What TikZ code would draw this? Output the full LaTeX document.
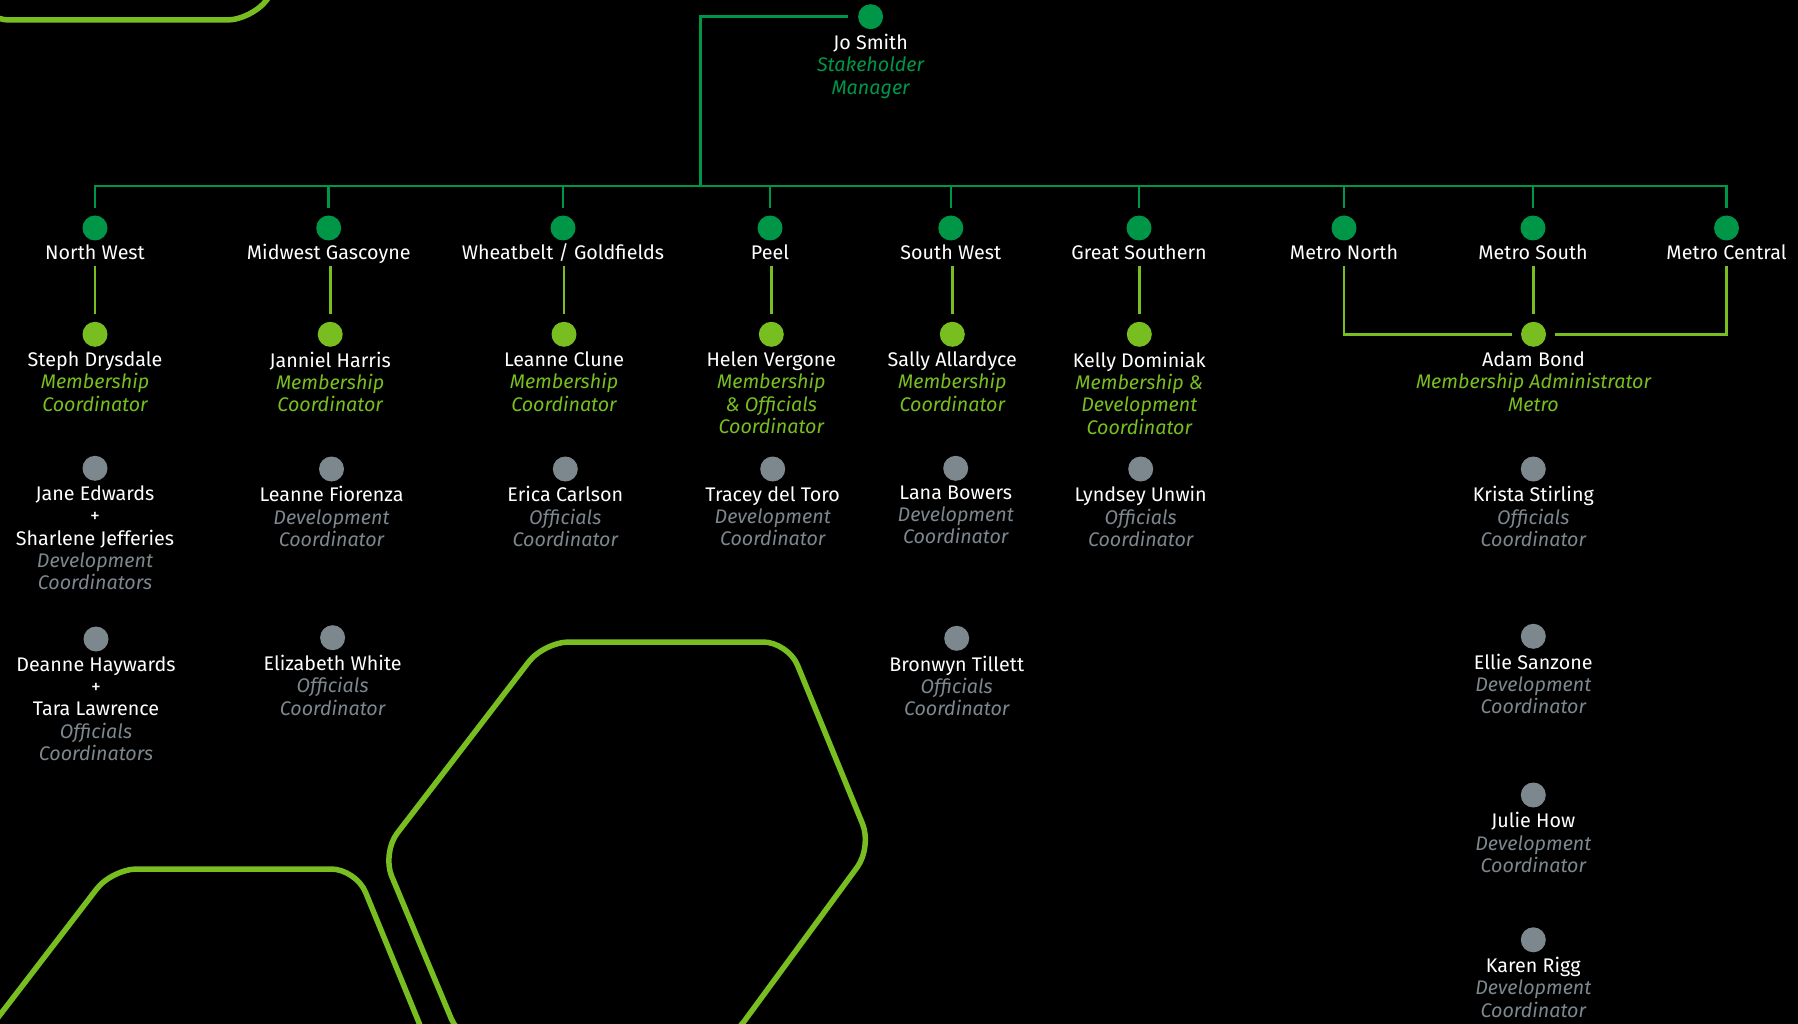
\documentclass[tikz,border=0pt]{standalone}
\usepackage{fontspec}
\setmainfont{Fira Sans}
\usetikzlibrary{positioning}

\definecolor{dkgreen}{RGB}{0,150,72}
\definecolor{ltgreen}{RGB}{120,190,32}
\definecolor{dotgray}{RGB}{124,135,142}

\newcommand{\dkrole}[1]{{\color{dkgreen}\itshape #1}}
\newcommand{\ltrole}[1]{{\color{ltgreen}\itshape #1}}
\newcommand{\grrole}[1]{{\color{dotgray}\itshape #1}}
\newcommand{\hexshape}[2]{%
  \draw[hexline, shift={(#1,#2)}] (122,0) -- (244,0) -- (328,205) -- (185,400)
    -- (-83,400) -- (-162,211) -- (0,0) -- cycle;}

\begin{document}
\begin{tikzpicture}[x=1pt, y=-1pt,
  dkdot/.style={circle, fill=dkgreen, minimum size=25pt, inner sep=0pt, outer sep=0pt},
  ltdot/.style={dkdot, fill=ltgreen},
  grdot/.style={dkdot, fill=dotgray},
  dkline/.style={draw=dkgreen, line width=2.6pt},
  ltline/.style={draw=ltgreen, line width=2.6pt},
  hexline/.style={draw=ltgreen, line width=5.5pt, rounded corners=25pt},
  person/.style={align=center, inner sep=0pt, outer sep=0pt, text=white,
    font=\fontsize{19.7}{22.3}\selectfont, execute at begin node=\strut}]
\useasboundingbox (0,0) rectangle (1798,1024);
\fill[black] (0,0) rectangle (1798,1024);

% background hexagons
\begin{scope}
\clip (0,0) rectangle (1798,1024);
\hexshape{67}{-380}
\hexshape{544}{642}
\hexshape{112}{869}
\end{scope}

% manager
\node[dkdot] (jo) at (870.6,16.7) {};
\node[person, below=5pt of jo] (jotxt) {Jo Smith\\\dkrole{Stakeholder}\\\dkrole{Manager}};
\coordinate (bar) at (700.6,186);

% regions
\node[dkdot] (nw) at (95,228) {};
\node[dkdot] (mg) at (328.7,228) {};
\node[dkdot] (wg) at (563,228) {};
\node[dkdot] (peel) at (770,228) {};
\node[dkdot] (sw) at (950.8,228) {};
\node[dkdot] (gs) at (1139,228) {};
\node[dkdot] (mn) at (1344,228) {};
\node[dkdot] (ms) at (1533,228) {};
\node[dkdot] (mc) at (1726.5,228) {};
\node[person, below=3pt of nw] (nwl) {North West};
\node[person, below=3pt of mg] (mgl) {Midwest Gascoyne};
\node[person, below=3pt of wg] (wgl) {Wheatbelt / Goldfields};
\node[person, below=3pt of peel] (peell) {Peel};
\node[person, below=3pt of sw] (swl) {South West};
\node[person, below=3pt of gs] (gsl) {Great Southern};
\node[person, below=3pt of mn] (mnl) {Metro North};
\node[person, below=3pt of ms] (msl) {Metro South};
\node[person, below=3pt of mc] (mcl) {Metro Central};

% coordinators
\node[ltdot] (steph) at (95,334.3) {};
\node[ltdot] (janniel) at (330.2,334.3) {};
\node[ltdot] (leanne) at (564,334.3) {};
\node[ltdot] (helen) at (771.3,334.3) {};
\node[ltdot] (sally) at (952.3,334.3) {};
\node[ltdot] (kelly) at (1139.3,334.3) {};
\node[ltdot] (adam) at (1533.5,334.3) {};
\node[person, below=5pt of steph] (stephtxt) {Steph Drysdale\\\ltrole{Membership}\\\ltrole{Coordinator}};
\node[person, below=5pt of janniel] (jannieltxt) {Janniel Harris\\\ltrole{Membership}\\\ltrole{Coordinator}};
\node[person, below=5pt of leanne] (leannetxt) {Leanne Clune\\\ltrole{Membership}\\\ltrole{Coordinator}};
\node[person, below=5pt of helen] (helentxt) {Helen Vergone\\\ltrole{Membership}\\\ltrole{\& Officials}\\\ltrole{Coordinator}};
\node[person, below=5pt of sally] (sallytxt) {Sally Allardyce\\\ltrole{Membership}\\\ltrole{Coordinator}};
\node[person, below=5pt of kelly] (kellytxt) {Kelly Dominiak\\\ltrole{Membership \&}\\\ltrole{Development}\\\ltrole{Coordinator}};
\node[person, below=5pt of adam] (adamtxt) {Adam Bond\\\ltrole{Membership Administrator}\\\ltrole{Metro}};

% staff
\node[grdot] (jane) at (95,468.3) {};
\node[grdot] (fiorenza) at (331.5,469) {};
\node[grdot] (erica) at (565.3,469) {};
\node[grdot] (tracey) at (772.7,469) {};
\node[grdot] (lana) at (955.7,468.3) {};
\node[grdot] (lyndsey) at (1140.7,469) {};
\node[grdot] (krista) at (1533.3,469) {};
\node[person, below=5pt of jane] (janetxt) {Jane Edwards\\+\\Sharlene Jefferies\\\grrole{Development}\\\grrole{Coordinators}};
\node[person, below=5pt of fiorenza] (fiorenzatxt) {Leanne Fiorenza\\\grrole{Development}\\\grrole{Coordinator}};
\node[person, below=5pt of erica] (ericatxt) {Erica Carlson\\\grrole{Officials}\\\grrole{Coordinator}};
\node[person, below=5pt of tracey] (traceytxt) {Tracey del Toro\\\grrole{Development}\\\grrole{Coordinator}};
\node[person, below=5pt of lana] (lanatxt) {Lana Bowers\\\grrole{Development}\\\grrole{Coordinator}};
\node[person, below=5pt of lyndsey] (lyndseytxt) {Lyndsey Unwin\\\grrole{Officials}\\\grrole{Coordinator}};
\node[person, below=5pt of krista] (kristatxt) {Krista Stirling\\\grrole{Officials}\\\grrole{Coordinator}};

\node[grdot] (deanne) at (96,639) {};
\node[grdot] (elizabeth) at (332.6,637.7) {};
\node[grdot] (bronwyn) at (956.7,638.3) {};
\node[grdot] (ellie) at (1533.3,636.3) {};
\node[grdot] (julie) at (1533.3,795) {};
\node[grdot] (karen) at (1533.3,939.8) {};
\node[person, below=5pt of deanne] (deannetxt) {Deanne Haywards\\+\\Tara Lawrence\\\grrole{Officials}\\\grrole{Coordinators}};
\node[person, below=5pt of elizabeth] (elizabethtxt) {Elizabeth White\\\grrole{Officials}\\\grrole{Coordinator}};
\node[person, below=5pt of bronwyn] (bronwyntxt) {Bronwyn Tillett\\\grrole{Officials}\\\grrole{Coordinator}};
\node[person, below=5pt of ellie] (ellietxt) {Ellie Sanzone\\\grrole{Development}\\\grrole{Coordinator}};
\node[person, below=5pt of julie] (julietxt) {Julie How\\\grrole{Development}\\\grrole{Coordinator}};
\node[person, below=5pt of karen] (karentxt) {Karen Rigg\\\grrole{Development}\\\grrole{Coordinator}};

% connectors
\draw[dkline, shorten <=10pt] (jo) -| (bar);
\draw[dkline, shorten <=7pt, shorten >=7pt] (nw) -- (nw |- bar) -- (mc |- bar) -- (mc);
\draw[dkline, shorten >=7pt] (mg |- bar) -- (mg);
\draw[dkline, shorten >=7pt] (wg |- bar) -- (wg);
\draw[dkline, shorten >=7pt] (peel |- bar) -- (peel);
\draw[dkline, shorten >=7pt] (sw |- bar) -- (sw);
\draw[dkline, shorten >=7pt] (gs |- bar) -- (gs);
\draw[dkline, shorten >=7pt] (mn |- bar) -- (mn);
\draw[dkline, shorten >=7pt] (ms |- bar) -- (ms);
\draw[ltline, shorten >=8pt] (steph |- nwl.south) -- (steph);
\draw[ltline, shorten >=8pt] (janniel |- mgl.south) -- (janniel);
\draw[ltline, shorten >=8pt] (leanne |- wgl.south) -- (leanne);
\draw[ltline, shorten >=8pt] (helen |- peell.south) -- (helen);
\draw[ltline, shorten >=8pt] (sally |- swl.south) -- (sally);
\draw[ltline, shorten >=8pt] (kelly |- gsl.south) -- (kelly);
\draw[ltline, shorten >=9pt] (mnl.south) |- (adam);
\draw[ltline, shorten >=8pt] (adam |- msl.south) -- (adam);
\draw[ltline, shorten >=9pt] (mcl.south) |- (adam);
\end{tikzpicture}
\end{document}
